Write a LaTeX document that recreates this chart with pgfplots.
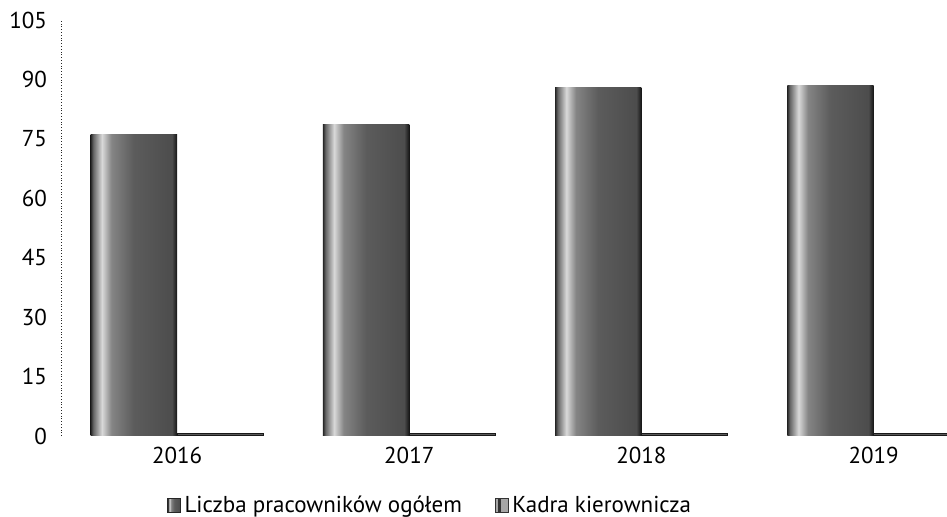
\documentclass[border=0pt]{standalone}
\usepackage{fontspec}
\setmainfont{PT Sans}
\usepackage{pgfplots}
\pgfplotsset{compat=1.18}

% grey bar shading: dark edge, light stripe near the left, dark grey body
% (tikz maps the bar onto 25bp..75bp of the shading)
\pgfdeclarehorizontalshading{barshade}{100bp}{%
  color(0bp)=(black!85); color(25bp)=(black!85); color(26.5bp)=(black!60);
  color(31.5bp)=(black!15); color(37bp)=(black!48); color(50bp)=(black!64);
  color(72bp)=(black!70); color(75bp)=(black!92); color(100bp)=(black!92)}

\pgfplotsset{
  mainbar/.style={ybar, bar width=0.372, bar shift=-0.186, draw=none, shading=barshade},
}

\begin{document}
\begin{tikzpicture}
\useasboundingbox (-30.5pt,-40.5pt) rectangle (443pt,218pt);
\begin{axis}[
    at={(0,0)}, anchor=south west,
    scale only axis,
    width=443pt, height=208pt,
    xmin=-0.5, xmax=3.316,
    ymin=0, ymax=105,
    xtick={0,1,2,3},
    xticklabels={2016,2017,2018,2019},
    ytick={0,15,30,45,60,75,90,105},
    major tick length=0pt,
    axis lines=left,
    axis line style={-},
    x axis line style={draw=none},
    y axis line style={densely dotted, black!85},
    tick label style={font=\fontsize{11.5}{13}\selectfont},
    /pgf/number format/assume math mode=true,
    yticklabel style={xshift=-3.5pt},
    xticklabel style={yshift=-2pt},
    legend style={at={(0.1196,-0.168)}, anchor=west, draw=none,
        inner sep=0pt, legend columns=2,
        font=\fontsize{11.5}{13}\selectfont,
        nodes={inner sep=1.6pt},
        /tikz/every even column/.append style={column sep=15pt}},
    legend cell align=left,
]
% Liczba pracowników ogółem: one plot per bar so each bar gets its own shading
\addplot[mainbar,
    legend image code/.code={\fill[black!62, draw=black!85, line width=0.5pt] (0pt,-3.5pt) rectangle (6.5pt,3.5pt);}]
    coordinates {(0,76)};
% Kadra kierownicza
\addplot[ybar, bar width=0.372, bar shift=0.186, fill=black!65, draw=black!90, line width=0.5pt,
    legend image code/.code={\fill[black!35, draw=black!80, line width=0.5pt] (0pt,-3.5pt) rectangle (6.5pt,3.5pt);
                             \fill[black!80] (1.5pt,-3.5pt) rectangle (2.3pt,3.5pt);}]
    coordinates {(0,0.7) (1,0.7) (2,0.7) (3,0.7)};
\addplot[mainbar, forget plot] coordinates {(1,78.5)};
\addplot[mainbar, forget plot] coordinates {(2,88)};
\addplot[mainbar, forget plot] coordinates {(3,88.5)};
\legend{Liczba pracowników ogółem, Kadra kierownicza}
\end{axis}
\end{tikzpicture}
\end{document}
